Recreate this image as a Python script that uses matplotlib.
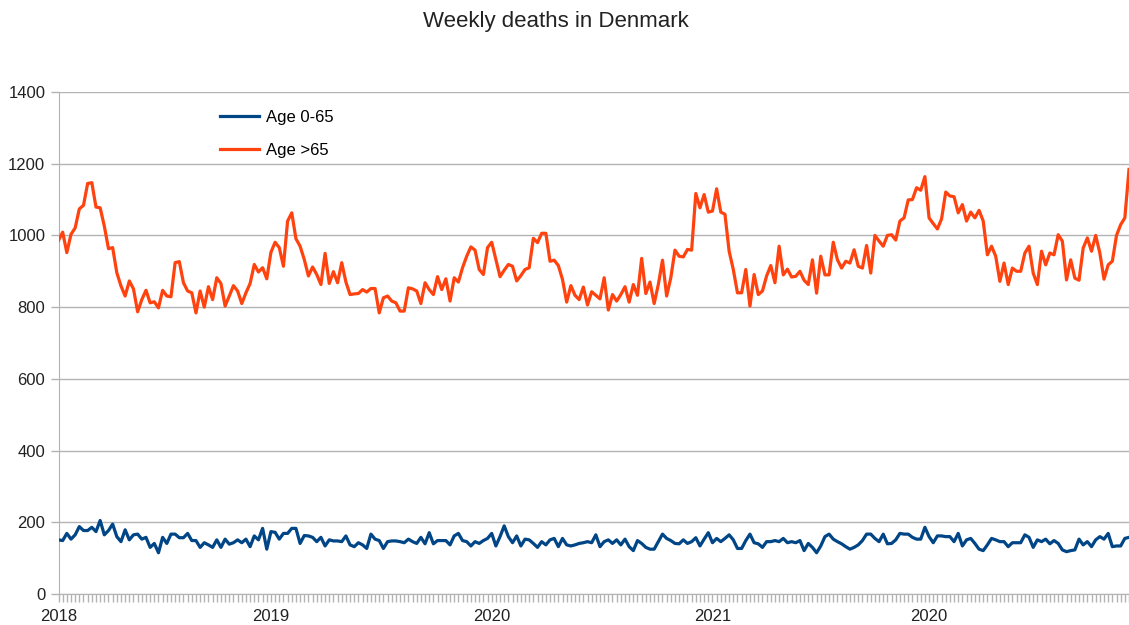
import matplotlib
matplotlib.use("Agg")
import matplotlib.pyplot as plt

# weekly deaths
age_over_65 = [
    986, 1009, 952, 1003, 1021, 1074, 1084, 1145, 1147, 1079,
    1077, 1026, 963, 966, 896, 859, 831, 873, 851, 787,
    821, 847, 812, 815, 798, 847, 831, 829, 924, 927,
    868, 845, 840, 784, 845, 800, 857, 821, 882, 866,
    803, 831, 860, 845, 810, 840, 866, 919, 898, 910,
    879, 953, 981, 966, 914, 1040, 1063, 991, 970, 933,
    887, 912, 891, 863, 950, 866, 899, 868, 924, 870,
    835, 837, 838, 849, 842, 852, 852, 784, 826, 831,
    817, 812,
    789, 789, 854, 851, 845, 810, 868, 849, 835, 885,
    849, 879, 817, 882, 870, 910, 942, 968, 959, 905,
    891, 966, 981, 933, 885, 903, 919, 914, 873, 888,
    905, 910, 992, 980, 1006, 1006, 928, 931, 916, 877,
    814, 860, 833, 821, 856, 806, 843, 833, 823, 882,
    792, 835, 817, 835, 857, 814, 863, 833, 936, 838,
    870, 810, 863, 931, 831, 882, 959, 942, 940, 961,
    959, 1117, 1077, 1114, 1065, 1068, 1130, 1065, 1059, 956,
    905, 840, 840, 905, 803, 891, 835, 845, 887, 916,
    868,
    970, 890, 906, 884, 886, 900, 875, 863, 932, 839,
    942, 890, 890, 981, 932, 909, 928, 923, 960, 914,
    909, 972, 895, 1000, 984, 970, 1000, 1002, 987, 1040,
    1049, 1099, 1100, 1133, 1126, 1164, 1049, 1033, 1018, 1046,
    1121, 1110, 1108, 1063, 1086, 1040, 1065, 1049, 1070, 1040,
    946, 970, 942, 872, 923, 863, 909, 900, 900, 951,
    970, 895, 863, 956, 918, 951, 946, 1002, 984, 876,
    932, 881, 875, 965, 993, 956, 1000, 951, 878, 918,
    928, 1000, 1030, 1049, 1184,
]

age_0_65 = [
    151, 149, 169, 153, 165, 188, 177, 177, 186, 174,
    205, 165, 177, 195, 160, 146, 179, 151, 165, 167,
    153, 158, 130, 141, 115, 158, 141, 167, 167, 157,
    157, 169, 149, 149, 130, 143, 137, 130, 151, 130,
    153, 139, 143, 151, 143, 153, 132, 162, 151, 183,
    125, 174, 172, 153, 169, 169, 183, 183, 141, 163,
    162, 158, 146, 158, 134, 151, 148, 148, 146, 162,
    137, 132, 143, 137, 127, 167, 153, 149, 127, 146,
    148, 148,
    146, 143, 153, 146, 141, 158, 140, 171, 140, 149,
    149, 149, 137, 162, 169, 149, 146, 134, 146, 141,
    149, 155, 169, 134, 160, 190, 160, 143, 162, 134,
    153, 151, 141, 130, 146, 137, 151, 155, 132, 155,
    137, 134, 137, 141, 143, 146, 143, 165, 132, 146,
    151, 141, 151, 137, 153, 132, 121, 149, 141, 130,
    125, 125, 146, 167, 155, 149, 141, 140, 151, 141,
    146, 157, 134, 153, 171, 143, 155, 146, 155, 165,
    151, 127, 127, 149, 167, 143, 140, 130, 146, 146,
    149,
    146, 155, 143, 146, 143, 149, 121, 141, 130, 115,
    134, 160, 167, 153, 146, 140, 132, 125, 130, 137,
    149, 167, 167, 155, 146, 167, 140, 141, 151, 169,
    167, 167, 158, 153, 153, 186, 160, 143, 162, 162,
    160, 160, 146, 169, 134, 151, 155, 141, 125, 121,
    137, 155, 151, 146, 146, 132, 143, 143, 143, 165,
    158, 130, 151, 146, 153, 140, 149, 141, 123, 118,
    121, 123, 153, 137, 146, 132, 151, 160, 153, 169,
    132, 134, 134, 155, 158,
]

year_label_weeks = [0, 51, 104, 157, 209]
year_labels = ["2018", "2019", "2020", "2021", "2020"]

plt.rcParams['font.family'] = ['Liberation Sans', 'DejaVu Sans']

fig = plt.figure(figsize=(11.29, 6.25), dpi=100)
ax = fig.add_axes([58.5 / 1129, 1 - 594 / 625, 1 - 58.5 / 1129, (594 - 92) / 625])

weeks = list(range(len(age_over_65)))

ax.plot(weeks, age_0_65, color='#004586', lw=2.3, label='Age 0-65', zorder=3)
ax.plot(weeks, age_over_65, color='#ff420e', lw=2.3, label='Age >65', zorder=3)

ax.set_ylim(0, 1400)
ax.set_xlim(0, len(weeks) - 1)
ax.set_yticks(range(0, 1401, 200))
ax.yaxis.grid(True, color='#b3b3b3', lw=1)
ax.set_axisbelow(True)

# one small tick per week, labels only at year starts
ax.set_xticks(weeks, minor=True)
ax.set_xticks(year_label_weeks)
ax.set_xticklabels(year_labels)
ax.tick_params(axis='x', which='both', length=6, color='#b3b3b3', width=1,
               labelsize=12, pad=4.5, labelcolor='#222222')
ax.tick_params(axis='y', length=6, color='#b3b3b3', width=1, labelsize=12,
               labelcolor='#222222', pad=3.5)

for side in ['top', 'right']:
    ax.spines[side].set_visible(False)
for side in ['left', 'bottom']:
    ax.spines[side].set_color('#b3b3b3')

ax.legend(loc='upper left', bbox_to_anchor=(0.137, 0.995), frameon=False,
          fontsize=12, handlelength=2.35, labelspacing=1.08, handletextpad=0.38)

fig.text(0.492, 0.965, "Weekly deaths in Denmark", ha='center', va='center',
         fontsize=16, color='#222222')

fig.savefig("out.png", dpi=100)
